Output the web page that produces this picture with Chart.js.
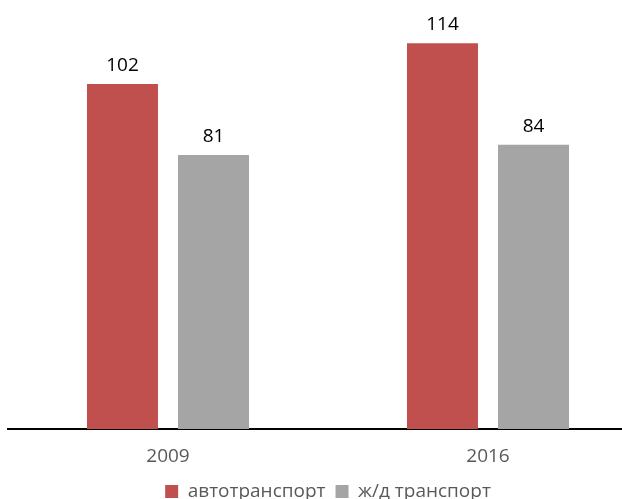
<!DOCTYPE html>
<html>
<head>
<meta charset="utf-8">
<script src="https://cdn.jsdelivr.net/npm/chart.js@4/dist/chart.umd.min.js"></script>
<style>
html,body{margin:0;padding:0;background:#fff;overflow:hidden;}
#wrap{width:622px;height:499px;position:relative;overflow:hidden;}
canvas{display:block;}
</style>
</head>
<body>
<div id="wrap"><canvas id="c" width="648" height="511"></canvas></div>
<script>
const categories = ['2009', '2016'];
const seriesNames = ['автотранспорт', 'ж/д транспорт'];
const autoValues = [102, 114];
const railValues = [81, 84];
const seriesColors = ['#C0504D', '#A5A5A5'];

const FONT = "'Open Sans', 'Noto Sans', sans-serif";

const valueLabels = {
  id: 'valueLabels',
  afterDatasetsDraw(chart) {
    const ctx = chart.ctx;
    ctx.save();
    ctx.font = "19px " + FONT;
    ctx.fillStyle = '#000000';
    ctx.textAlign = 'center';
    ctx.textBaseline = 'alphabetic';
    chart.data.datasets.forEach((ds, i) => {
      const meta = chart.getDatasetMeta(i);
      meta.data.forEach((bar, j) => {
        ctx.fillText(String(ds.data[j]), bar.x, bar.y - 13);
      });
    });
    ctx.restore();
  }
};

new Chart(document.getElementById('c'), {
  type: 'bar',
  data: {
    labels: categories,
    datasets: [
      { label: seriesNames[0], data: autoValues, backgroundColor: seriesColors[0], categoryPercentage: 0.569, barPercentage: 0.78 },
      { label: seriesNames[1], data: railValues, backgroundColor: seriesColors[1], categoryPercentage: 0.569, barPercentage: 0.78 }
    ]
  },
  options: {
    responsive: false,
    animation: false,
    devicePixelRatio: 1,
    layout: { padding: { left: 8, right: 0, top: 23, bottom: 0 } },
    scales: {
      x: {
        grid: { display: false, drawTicks: false, tickLength: 0 },
        border: { display: true, color: '#000000', width: 2 },
        ticks: { color: '#595959', font: { family: FONT, size: 19 }, padding: 16 },
        afterFit(scale) { scale.height = 43; }
      },
      y: { display: false, min: 0, max: 120 }
    },
    plugins: {
      legend: {
        position: 'bottom',
        labels: {
          boxWidth: 13, boxHeight: 13, padding: 10,
          color: '#595959',
          font: { family: FONT, size: 19 }
        }
      },
      tooltip: { enabled: false }
    }
  },
  plugins: [valueLabels]
});
</script>
</body>
</html>
